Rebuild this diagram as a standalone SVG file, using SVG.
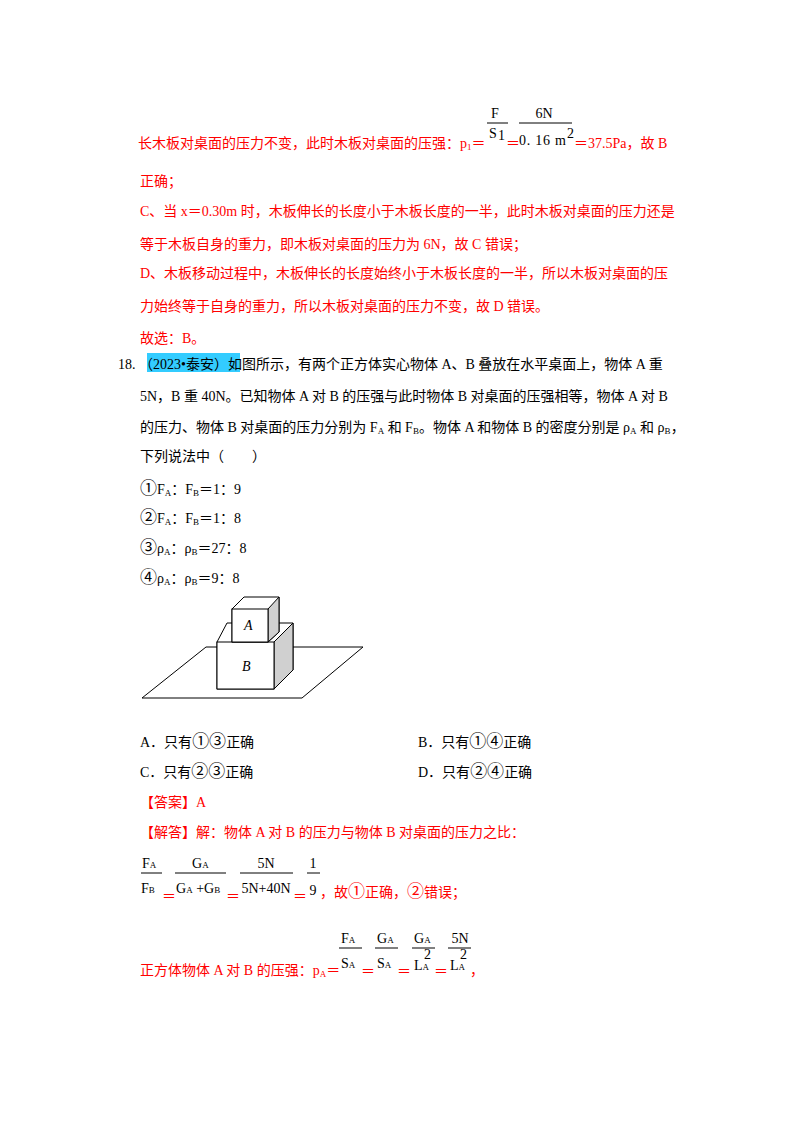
<svg xmlns="http://www.w3.org/2000/svg" width="800" height="1132" viewBox="0 0 800 1132">
<style>
text{font-family:"Liberation Serif","Noto Sans CJK SC",serif;font-size:14px}
.r{fill:#ff0000}
.k{fill:#000}
.m{font-family:"Liberation Serif","Noto Sans CJK SC",serif;font-size:14px;fill:#000}
.fl{stroke:#000;stroke-width:1}
.s{font-size:9px}
.fig{stroke:#000;stroke-width:1;fill:#fff}
</style>
<rect width="800" height="1132" fill="#fff"/>
<g id="top-formula">
<text class="r" x="138" y="148">长木板对桌面的压力不变，此时木板对桌面的压强：p<tspan class="s" dy="2">1</tspan><tspan dy="-2">＝</tspan></text>
<text class="m" x="491" y="118">F</text>
<line class="fl" x1="487" y1="123" x2="508" y2="123"/>
<text class="m" x="489" y="138">S</text>
<text class="m" x="498" y="140" font-size="11">1</text>
<text class="r" x="506" y="148">＝</text>
<text class="m" x="544" y="118" text-anchor="middle">6N</text>
<line class="fl" x1="519" y1="123" x2="572" y2="123"/>
<text class="m" x="519" y="145" textLength="47" lengthAdjust="spacing">0. 16 m</text>
<text class="m" x="567" y="138" font-size="10">2</text>
<text class="r" x="574" y="148">＝37.5Pa，故 B</text>
</g>
<g id="solution-text" class="r">
<text class="r" x="140" y="186">正确；</text>
<text class="r" x="140" y="216">C、当 x＝0.30m 时，木板伸长的长度小于木板长度的一半，此时木板对桌面的压力还是</text>
<text class="r" x="140" y="249">等于木板自身的重力，即木板对桌面的压力为 6N，故 C 错误；</text>
<text class="r" x="140" y="278">D、木板移动过程中，木板伸长的长度始终小于木板长度的一半，所以木板对桌面的压</text>
<text class="r" x="140" y="311">力始终等于自身的重力，所以木板对桌面的压力不变，故 D 错误。</text>
<text class="r" x="140" y="343">故选：B。</text>
</g>
<g id="question">
<rect x="147" y="353" width="93" height="19" fill="#33ccff"/>
<text class="k" x="118" y="369">18.  （2023•泰安）如图所示，有两个正方体实心物体 A、B 叠放在水平桌面上，物体 A 重</text>
<text class="k" x="140" y="401">5N，B 重 40N。已知物体 A 对 B 的压强与此时物体 B 对桌面的压强相等，物体 A 对 B</text>
<text class="k" x="140" y="432">的压力、物体 B 对桌面的压力分别为 F<tspan class="s" dy="2">A</tspan><tspan dy="-2"> 和 F</tspan><tspan class="s" dy="2">B</tspan><tspan dy="-2">。物体 A 和物体 B 的密度分别是 ρ</tspan><tspan class="s" dy="2">A</tspan><tspan dy="-2"> 和 ρ</tspan><tspan class="s" dy="2">B</tspan><tspan dy="-2">，</tspan></text>
<text class="k" x="140" y="461">下列说法中（　　）</text>
<text class="k" x="140" y="494"><tspan font-size="17">①</tspan>F<tspan class="s" dy="2">A</tspan><tspan dy="-2">：F</tspan><tspan class="s" dy="2">B</tspan><tspan dy="-2">＝1：9</tspan></text>
<text class="k" x="140" y="523"><tspan font-size="17">②</tspan>F<tspan class="s" dy="2">A</tspan><tspan dy="-2">：F</tspan><tspan class="s" dy="2">B</tspan><tspan dy="-2">＝1：8</tspan></text>
<text class="k" x="140" y="553"><tspan font-size="17">③</tspan>ρ<tspan class="s" dy="2">A</tspan><tspan dy="-2">：ρ</tspan><tspan class="s" dy="2">B</tspan><tspan dy="-2">＝27：8</tspan></text>
<text class="k" x="140" y="583"><tspan font-size="17">④</tspan>ρ<tspan class="s" dy="2">A</tspan><tspan dy="-2">：ρ</tspan><tspan class="s" dy="2">B</tspan><tspan dy="-2">＝9：8</tspan></text>
</g>
<g id="figure">
<polygon class="fig" points="142,698 206,647 363,647 302,698"/>
<polygon class="fig" points="217,642 227,623 293,623 293,670 274,689 217,689"/>
<polygon points="274,642 293,623 293,670 274,689" fill="#d0d0d0" stroke="#000"/>
<rect class="fig" x="217" y="642" width="57" height="47"/>
<polygon class="fig" points="232,609 244,597 279,597 279,632 268,642 232,642"/>
<polygon points="268,609 279,597 279,632 268,642" fill="#d0d0d0" stroke="#000"/>
<rect class="fig" x="232" y="609" width="36" height="33"/>
<text x="244" y="630" font-style="italic" font-size="13" fill="#000">A</text>
<text x="242" y="671" font-style="italic" font-size="13" fill="#000">B</text>
</g>
<g id="options">
<text class="k" x="140" y="747">A．只有<tspan font-size="17">①③</tspan>正确</text>
<text class="k" x="418" y="747">B．只有<tspan font-size="17">①④</tspan>正确</text>
<text class="k" x="140" y="777">C．只有<tspan font-size="17">②③</tspan>正确</text>
<text class="k" x="418" y="777">D．只有<tspan font-size="17">②④</tspan>正确</text>
</g>
<g id="answer">
<text class="r" x="140" y="807">【答案】A</text>
<text class="r" x="140" y="837">【解答】解：物体 A 对 B 的压力与物体 B 对桌面的压力之比：</text>
</g>
<g id="formula1">
<text class="m" x="142" y="868">F<tspan class="s">A</tspan></text>
<line class="fl" x1="141" y1="873" x2="162" y2="873"/>
<text class="m" x="141" y="893">F<tspan class="s">B</tspan></text>
<text class="r" x="162" y="901">＝</text>
<text class="m" x="192" y="868">G<tspan class="s">A</tspan></text>
<line class="fl" x1="175" y1="873" x2="226" y2="873"/>
<text class="m" x="176" y="893">G<tspan class="s">A</tspan> +G<tspan class="s">B</tspan></text>
<text class="r" x="226" y="901">＝</text>
<text class="m" x="266" y="868" text-anchor="middle">5N</text>
<line class="fl" x1="240" y1="873" x2="293" y2="873"/>
<text class="m" x="266" y="893" text-anchor="middle">5N+40N</text>
<text class="r" x="293" y="901">＝</text>
<text class="m" x="313" y="868" text-anchor="middle">1</text>
<line class="fl" x1="307" y1="873" x2="320" y2="873"/>
<text class="m" x="313" y="895" text-anchor="middle">9</text>
<text class="r" x="320" y="897">，故<tspan font-size="17">①</tspan>正确，<tspan font-size="17">②</tspan>错误；</text>
</g>
<g id="formula2">
<text class="r" x="140" y="975">正方体物体 A 对 B 的压强：p<tspan class="s" dy="2">A</tspan><tspan dy="-2">＝</tspan></text>
<text class="m" x="341" y="943">F<tspan class="s">A</tspan></text>
<line class="fl" x1="339" y1="948" x2="362" y2="948"/>
<text class="m" x="341" y="968">S<tspan class="s">A</tspan></text>
<text class="r" x="361" y="976">＝</text>
<text class="m" x="377" y="943">G<tspan class="s">A</tspan></text>
<line class="fl" x1="375" y1="948" x2="398" y2="948"/>
<text class="m" x="377" y="968">S<tspan class="s">A</tspan></text>
<text class="r" x="397" y="976">＝</text>
<text class="m" x="414" y="943">G<tspan class="s">A</tspan></text>
<line class="fl" x1="412" y1="948" x2="435" y2="948"/>
<text class="m" x="414" y="970">L<tspan class="s">A</tspan></text>
<text class="m" x="424" y="959" font-size="10">2</text>
<text class="r" x="434" y="976">＝</text>
<text class="m" x="460" y="943" text-anchor="middle">5N</text>
<line class="fl" x1="448" y1="948" x2="471" y2="948"/>
<text class="m" x="450" y="970">L<tspan class="s">A</tspan></text>
<text class="m" x="460" y="959" font-size="10">2</text>
<text class="r" x="470" y="975">，</text>
</g>
</svg>
